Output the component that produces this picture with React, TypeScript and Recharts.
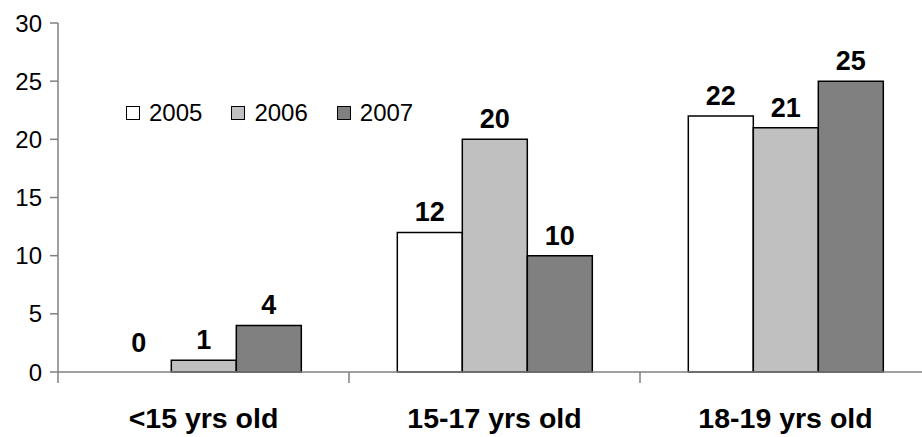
import { BarChart, Bar, XAxis, YAxis, Legend, LabelList, Rectangle } from 'recharts';

const categories = ['<15 yrs old', '15-17 yrs old', '18-19 yrs old'];
const years = ['2005', '2006', '2007'];
const values2005 = [0, 12, 22];
const values2006 = [1, 20, 21];
const values2007 = [4, 10, 25];
const yTicks = [0, 5, 10, 15, 20, 25, 30];

const fills = ['#ffffff', '#c0c0c0', '#808080'];
const axisColor = '#808080';
const font = '"Liberation Sans", Arial, sans-serif';

const data = categories.map((category, i) => ({
  category,
  '2005': values2005[i],
  '2006': values2006[i],
  '2007': values2007[i],
}));

// category labels plus the tick marks that sit between the groups
function CategoryTick(props: any) {
  const { x, y, payload, index } = props;
  const half = payload?.offset ?? 0;
  const last = index === categories.length - 1;
  return (
    <g>
      <line x1={x - half} x2={x - half} y1={y} y2={y + 11} stroke={axisColor} strokeWidth={1.5} />
      {last && <line x1={x + half} x2={x + half} y1={y} y2={y + 11} stroke={axisColor} strokeWidth={1.5} />}
      <text x={x} y={y + 56} textAnchor="middle" fontFamily={font} fontSize={28.5} fontWeight="bold" fill="#000">
        {payload.value}
      </text>
    </g>
  );
}

// zero values keep an invisible slot so their "0" label is still placed
const zeroSlot = (value: any) => (Number(value) === 0 ? 9 : 0);

function makeShape(year: string) {
  return (props: any) => {
    if (Number(props.payload?.[year]) === 0) return <g />;
    return <Rectangle {...props} />;
  };
}

function YearLegend() {
  return (
    <div style={{ display: 'flex', alignItems: 'center', fontFamily: font, fontSize: 24, color: '#000' }}>
      {years.map((year, i) => (
        <div key={year} style={{ display: 'flex', alignItems: 'center', marginRight: i < years.length - 1 ? 29 : 0 }}>
          <span
            style={{
              display: 'inline-block',
              width: 12,
              height: 12,
              background: fills[i],
              border: '1.5px solid #000',
              marginRight: 9,
            }}
          />
          <span>{year}</span>
        </div>
      ))}
    </div>
  );
}

export default function App() {
  return (
    <div style={{ position: 'absolute', left: 0, top: 0, width: 922, height: 437, overflow: 'hidden', background: '#fff' }}>
      <BarChart
        width={931}
        height={437}
        data={data}
        margin={{ top: 23, right: 0, left: 0, bottom: 0 }}
        barCategoryGap="16.6%"
        barGap={0}
      >
        <XAxis
          dataKey="category"
          height={65}
          axisLine={{ stroke: axisColor, strokeWidth: 1.5 }}
          tickLine={false}
          tickSize={0}
          tickMargin={0}
          interval={0}
          tick={<CategoryTick />}
        />
        <YAxis
          width={58}
          domain={[0, 30]}
          ticks={yTicks}
          interval={0}
          axisLine={{ stroke: axisColor, strokeWidth: 1.5 }}
          tickLine={{ stroke: axisColor, strokeWidth: 1.5 }}
          tickSize={8}
          tickMargin={8}
          tick={{ fill: '#000', fontSize: 24, fontFamily: font }}
        />
        <Legend
          layout="horizontal"
          verticalAlign="middle"
          align="center"
          content={<YearLegend />}
          wrapperStyle={{ left: 126, top: 99, width: 'auto' }}
        />
        {years.map((year, i) => (
          <Bar
            key={year}
            dataKey={year}
            fill={fills[i]}
            stroke="#000"
            strokeWidth={1.5}
            minPointSize={zeroSlot}
            shape={makeShape(year)}
            isAnimationActive={false}
          >
            <LabelList
              dataKey={year}
              position="top"
              offset={11}
              fill="#000"
              fontSize={27}
              fontWeight="bold"
              fontFamily={font}
            />
          </Bar>
        ))}
      </BarChart>
    </div>
  );
}
